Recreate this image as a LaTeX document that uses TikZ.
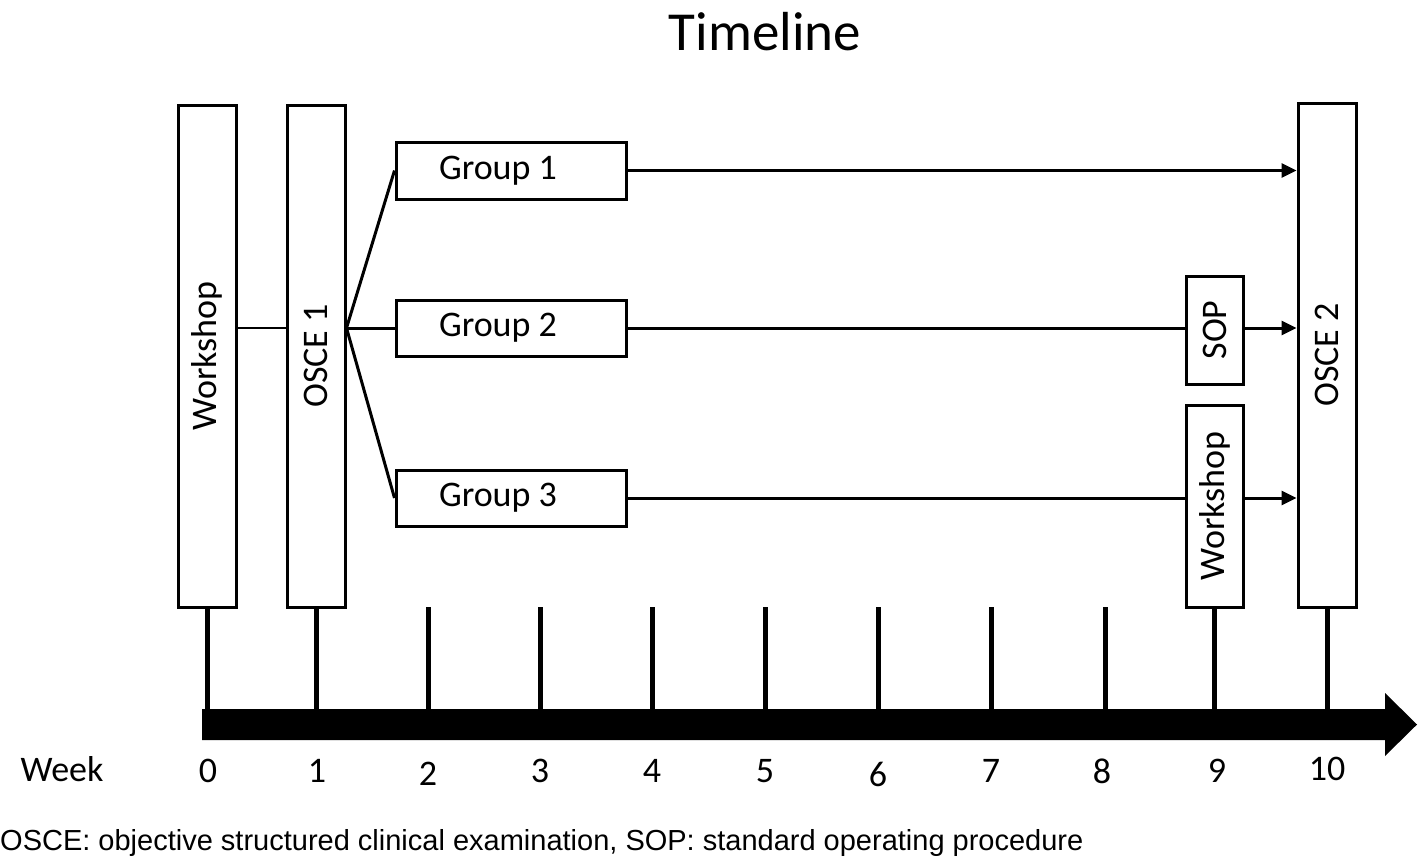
\documentclass[tikz,border=0pt]{standalone}
\usepackage{fontspec}
\setmainfont[Numbers=Lining]{Carlito}
\newfontfamily\arialf{Liberation Sans}
\usetikzlibrary{arrows.meta}
\begin{document}
\begin{tikzpicture}[x=1pt,y=-1pt,
  box/.style={draw, line width=3pt, inner sep=0pt, fill=white, font=\fontsize{36}{40}\selectfont},
  conn/.style={line width=3pt},
  arr/.style={conn, -{Triangle[length=15pt,width=14pt]}},
  tickline/.style={line width=5pt},
  wklabel/.style={font=\fontsize{36}{40}\selectfont, inner sep=0pt}
]
\useasboundingbox (0,0) rectangle (1423,860);

% title
\node[font=\fontsize{55}{60}\selectfont, inner sep=0pt] (title) at (765,32) {Timeline};

% boxes
\node[box, minimum width=58pt, minimum height=502pt] (ws) at (207,356) {\rotatebox{90}{Workshop}};
\node[box, minimum width=58pt, minimum height=502pt] (os1) at (316,356) {\rotatebox{90}{OSCE 1}};
\node[box, minimum width=230pt, minimum height=57pt] (g1) at (511,170.5) {\raisebox{-2pt}{Group 1}\hspace*{26pt}};
\node[box, minimum width=230pt, minimum height=56pt] (g2) at (511,328) {\raisebox{-2pt}{Group 2}\hspace*{26pt}};
\node[box, minimum width=230pt, minimum height=56pt] (g3) at (511,498) {\raisebox{-2pt}{Group 3}\hspace*{26pt}};
\node[box, minimum width=57pt, minimum height=108pt] (sop) at (1214.5,330) {\rotatebox{90}{SOP}};
\node[box, minimum width=57pt, minimum height=202pt] (ws2) at (1214.5,506) {\rotatebox{90}{Workshop}};
\node[box, minimum width=58pt, minimum height=504pt] (os2) at (1327,355) {\rotatebox{90}{OSCE 2}};

% connectors
\coordinate (fan) at (os1.east |- g2.west);
\draw[line width=2pt] (ws.east |- fan) -- (os1.west |- fan);
\draw[conn] (fan) -- (g1.west);
\draw[conn] (fan) -- (g2.west);
\draw[conn] (fan) -- (g3.west);
\draw[arr] (g1.east) -- (os2.west |- g1.east);
\draw[conn] (g2.east) -- (sop.west |- g2.east);
\draw[arr] (sop.east |- g2.east) -- (os2.west |- g2.east);
\draw[conn] (g3.east) -- (ws2.west |- g3.east);
\draw[arr] (ws2.east |- g3.east) -- (os2.west |- g3.east);

% axis
\coordinate (axtop) at (0,709);
\fill (202,709) -- (1385,709) -- (1385,693) -- (1417,724.5) -- (1385,756) -- (1385,740) -- (202,740) -- cycle;

% ticks
\draw[tickline] (ws.south) -- (ws.south |- axtop);
\draw[tickline] (os1.south) -- (os1.south |- axtop);
\draw[tickline] (ws2.south) -- (ws2.south |- axtop);
\draw[tickline] (os2.south) -- (os2.south |- axtop);
\foreach \i/\x in {2/428,3/540,4/652,5/765,6/878,7/991,8/1105}{
  \coordinate (t\i) at (\x,607);
  \draw[tickline] (t\i) -- (t\i |- axtop);
}

% week labels
\node[wklabel] (week) at (62,769) {Week};
\node[wklabel] (w0) at (208,771) {0};
\node[wklabel] (w1) at (317,771) {1};
\node[wklabel] (w2) at (428,774) {2};
\node[wklabel] (w3) at (540,771) {3};
\node[wklabel] (w4) at (652,771) {4};
\node[wklabel] (w5) at (765,771) {5};
\node[wklabel] (w6) at (878,774) {6};
\node[wklabel] (w7) at (991,771) {7};
\node[wklabel] (w8) at (1102,771) {8};
\node[wklabel] (w9) at (1217,771) {9};
\node[wklabel] (w10) at (1327,769) {10};

% footnote
\node[font=\arialf\fontsize{29}{33}\selectfont, inner sep=0pt, anchor=west] (foot) at (0,843) {OSCE: objective structured clinical examination, SOP: standard operating procedure};
\end{tikzpicture}
\end{document}
